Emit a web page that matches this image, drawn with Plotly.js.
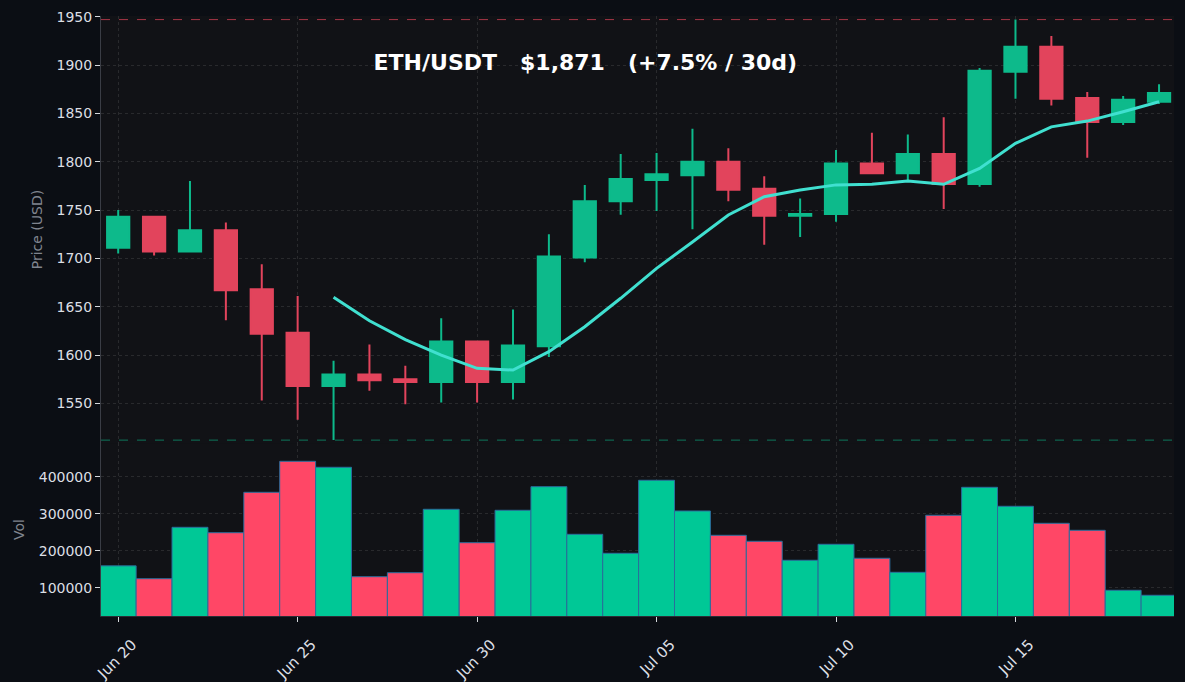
<!DOCTYPE html>
<html>
<head>
<meta charset="utf-8">
<script src="https://cdn.plot.ly/plotly-3.0.1.min.js"></script>
<style>
  html, body { margin: 0; padding: 0; background: #0b0e14; }
  #chart { width: 1185px; height: 682px; }
</style>
</head>
<body>
<div id="chart"></div>
<script>
const dates = ['2023-06-20','2023-06-21','2023-06-22','2023-06-23','2023-06-24','2023-06-25','2023-06-26','2023-06-27','2023-06-28','2023-06-29',
               '2023-06-30','2023-07-01','2023-07-02','2023-07-03','2023-07-04','2023-07-05','2023-07-06','2023-07-07','2023-07-08','2023-07-09',
               '2023-07-10','2023-07-11','2023-07-12','2023-07-13','2023-07-14','2023-07-15','2023-07-16','2023-07-17','2023-07-18','2023-07-19'];
const openP  = [1711,1743,1707,1729,1668,1623,1568,1580,1575,1572,1614,1572,1609,1701,1759,1781,1786,1800,1772,1744,1746,1798,1788,1808,1777,1893,1919,1866,1841,1862];
const highP  = [1750,1744,1780,1737,1694,1661,1594,1611,1589,1638,1615,1647,1725,1776,1808,1809,1834,1814,1785,1762,1812,1830,1828,1846,1897,1947,1930,1872,1868,1880];
const lowP   = [1705,1703,1706,1636,1553,1533,1512,1563,1549,1551,1551,1554,1598,1696,1745,1749,1730,1759,1714,1722,1738,1787,1781,1751,1774,1865,1858,1804,1838,1860];
const closeP = [1743,1707,1729,1667,1622,1568,1580,1574,1572,1614,1572,1610,1702,1759,1782,1787,1800,1771,1744,1746,1798,1788,1808,1777,1894,1919,1865,1841,1864,1871];
const ma7    = [null,null,null,null,null,null,1659.7,1635.5,1616,1600,1586.3,1584.5,1603.5,1629.3,1658.7,1689.7,1717,1744.9,1763.8,1770.7,
                1776,1776.6,1780,1776.6,1793,1819,1836,1842,1851.7,1862];
const volume = [159000,124300,263200,248600,357800,441600,425400,129700,140500,311900,221600,309200,373000,244300,193000,390300,307300,241600,225400,174100,
                217300,179500,141600,295700,371300,320000,274000,255100,93000,79500];
const tickDates = ['2023-06-20','2023-06-25','2023-06-30','2023-07-05','2023-07-10','2023-07-15'];
const tickText  = ['Jun 20','Jun 25','Jun 30','Jul 05','Jul 10','Jul 15'];
const priceTicks = [1550,1600,1650,1700,1750,1800,1850,1900,1950];
const volTicks = [100000,200000,300000,400000];
const volTickText = ['100000','200000','300000','400000'];
const titleText = 'ETH/USDT\u00a0\u00a0\u00a0$1,871\u00a0\u00a0\u00a0(+7.5% / 30d)';

const UP = '#0dba8b', DOWN = '#e2445c';
const VUP = '#00c896', VDOWN = '#ff4766';
const volColors = closeP.map((c, i) => c >= openP[i] ? VUP : VDOWN);

const FONT = 'DejaVu Sans, sans-serif';
const gridColor = 'rgba(255,255,255,0.10)';
const tickFont = {family: FONT, size: 14, color: '#dcdfe4'};

const traces = [
  {
    type: 'candlestick', x: dates, open: openP, high: highP, low: lowP, close: closeP,
    xaxis: 'x', yaxis: 'y',
    increasing: {line: {color: UP, width: 2}, fillcolor: UP},
    decreasing: {line: {color: DOWN, width: 2}, fillcolor: DOWN},
    whiskerwidth: 0, hoverinfo: 'skip'
  },
  {
    type: 'scatter', mode: 'lines', x: dates, y: ma7, xaxis: 'x', yaxis: 'y',
    line: {color: '#40e0d0', width: 3}, connectgaps: false, hoverinfo: 'skip'
  },
  {
    type: 'bar', x: dates, y: volume, xaxis: 'x2', yaxis: 'y2',
    width: 86400000,
    marker: {color: volColors, line: {color: '#2a6d9c', width: 1}},
    hoverinfo: 'skip'
  }
];

const xRange = ['2023-06-19 12:30', '2023-07-19 10:00'];
const maxHigh = Math.max(...highP), minLow = Math.min(...lowP);

const layout = {
  width: 1185, height: 682,
  paper_bgcolor: '#0b0e14', plot_bgcolor: '#111216',
  margin: {l: 101, r: 11, t: 16, b: 66},
  showlegend: false,
  bargap: 0,
  boxgap: 0.38, boxgroupgap: 0,
  title: {text: titleText, x: 0.494, xref: 'container', y: 0.909, yref: 'container', yanchor: 'middle', xanchor: 'center',
          font: {family: FONT, size: 22, color: '#ffffff', weight: 700}},
  xaxis: {
    type: 'date', range: xRange, anchor: 'y', domain: [0, 1],
    rangeslider: {visible: false},
    showticklabels: false, ticks: '',
    tickvals: tickDates, showgrid: true, gridcolor: gridColor, griddash: 'dot', gridwidth: 1,
    zeroline: false, showline: false
  },
  yaxis: {
    domain: [0.2883, 1], range: [1509, 1950.7], anchor: 'x',
    tickvals: priceTicks, ticks: 'outside', ticklen: 5, tickcolor: '#d6d9de', tickwidth: 1,
    tickfont: tickFont, showgrid: true, gridcolor: gridColor, griddash: 'dot',
    showline: true, linecolor: '#3a3d45', linewidth: 1, zeroline: false,
    title: {text: 'Price (USD)', font: {family: FONT, size: 14, color: '#80858f'}, standoff: 10}
  },
  xaxis2: {
    type: 'date', range: xRange, anchor: 'y2', domain: [0, 1],
    tickvals: tickDates, ticktext: tickText, tickangle: -45, ticklabelshift: 14, ticklabelstandoff: 8,
    ticks: 'outside', ticklen: 5, tickcolor: '#d6d9de', tickwidth: 1,
    tickfont: {family: FONT, size: 15, color: '#dcdfe4'},
    showgrid: true, gridcolor: gridColor, griddash: 'dot',
    showline: true, linecolor: '#2a2d35', linewidth: 1, zeroline: false
  },
  yaxis2: {
    domain: [0, 0.2883], range: [23500, 491000], anchor: 'x2',
    tickvals: volTicks, ticktext: volTickText, ticks: 'outside', ticklen: 5, tickcolor: '#d6d9de', tickwidth: 1,
    tickfont: tickFont, showgrid: true, gridcolor: gridColor, griddash: 'dot',
    showline: true, linecolor: '#3a3d45', linewidth: 1, zeroline: false,
    title: {text: 'Vol', font: {family: FONT, size: 14, color: '#80858f'}, standoff: 10}
  },
  shapes: [
    {type: 'line', xref: 'x domain', yref: 'y', x0: 0, x1: 1, y0: maxHigh, y1: maxHigh,
     line: {color: 'rgba(226,68,92,0.7)', width: 1, dash: 'dash'}},
    {type: 'line', xref: 'x domain', yref: 'y', x0: 0, x1: 1, y0: minLow, y1: minLow,
     line: {color: 'rgba(13,186,139,0.6)', width: 1, dash: 'dash'}}
  ]
};

Plotly.newPlot('chart', traces, layout, {displayModeBar: false, staticPlot: true});
</script>
</body>
</html>
